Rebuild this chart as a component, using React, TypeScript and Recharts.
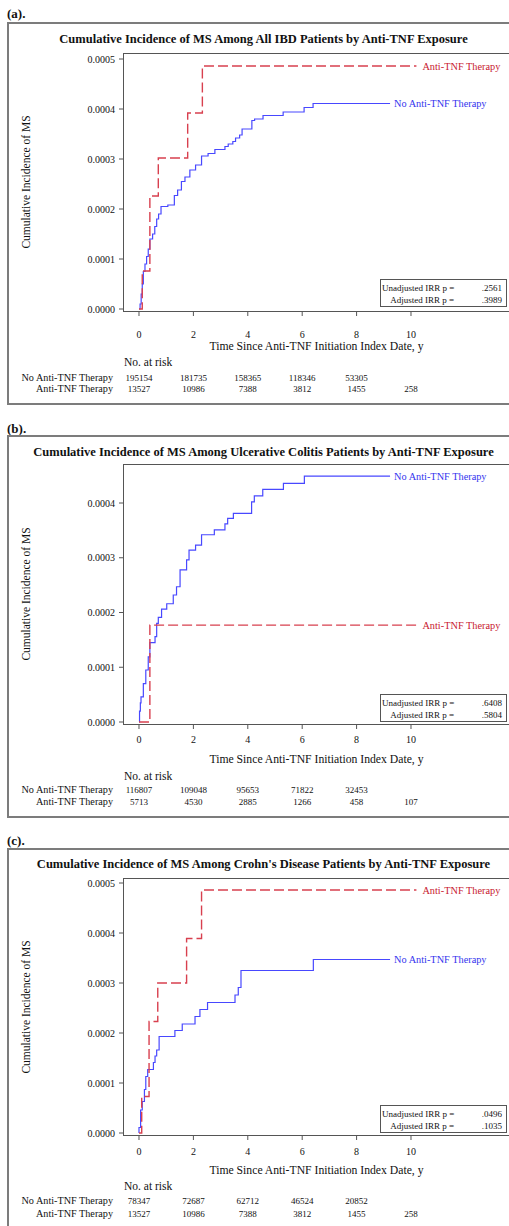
import React from "react";
import { LineChart, Line, XAxis, YAxis, ReferenceDot } from "recharts";

type Pt = [number, number];

const timeTicks = [0, 2, 4, 6, 8, 10];
const groupNames = ["No Anti-TNF Therapy", "Anti-TNF Therapy"];

// (a) all IBD
const ibdNoTnf: Pt[] = [
  [0, 0], [0.04, 0.00001], [0.08, 0.00003], [0.12, 0.00005], [0.16, 0.000075],
  [0.22, 0.00009], [0.28, 0.000105], [0.34, 0.00012], [0.4, 0.00014], [0.5, 0.00015],
  [0.58, 0.000165], [0.65, 0.00018], [0.72, 0.00019], [0.81, 0.000205], [1.06, 0.000208],
  [1.3, 0.000227], [1.42, 0.000238], [1.56, 0.000255], [1.69, 0.000264], [1.87, 0.000278],
  [2.08, 0.000288], [2.3, 0.000306], [2.54, 0.000311], [2.79, 0.000319], [3.16, 0.000325],
  [3.28, 0.00033], [3.45, 0.000335], [3.55, 0.000342], [3.7, 0.000348], [3.79, 0.00036],
  [4.15, 0.000377], [4.25, 0.00038], [4.56, 0.000387], [5.3, 0.000394], [6.07, 0.000403],
  [6.4, 0.000411], [9.23, 0.000411],
];
const ibdTnf: Pt[] = [
  [0, 0], [0.12, 0.000076], [0.4, 0.000226], [0.71, 0.000302], [1.79, 0.000392],
  [2.33, 0.000486], [10.2, 0.000486],
];
const ibdRiskNoTnf = ["195154", "181735", "158365", "118346", "53305", ""];
const ibdRiskTnf = ["13527", "10986", "7388", "3812", "1455", "258"];
const ibdP = [".2561", ".3989"];

// (b) ulcerative colitis
const ucNoTnf: Pt[] = [
  [0, 0], [0.02, 0.00002], [0.05, 0.000035], [0.074, 0.000046], [0.16, 0.00007],
  [0.25, 0.000095], [0.34, 0.000119], [0.4, 0.000145], [0.59, 0.000156], [0.65, 0.00018],
  [0.71, 0.000191], [0.83, 0.000206], [1.02, 0.000216], [1.26, 0.000232], [1.38, 0.000247],
  [1.51, 0.000278], [1.75, 0.000296], [1.84, 0.000314], [2.08, 0.000323], [2.3, 0.000342],
  [2.77, 0.000351], [3.16, 0.000362], [3.26, 0.000372], [3.47, 0.000381], [4.14, 0.000402],
  [4.24, 0.000413], [4.55, 0.000425], [5.31, 0.000436], [6.08, 0.000449], [9.23, 0.000449],
];
const ucTnf: Pt[] = [[0, 0], [0.4, 0.000177], [10.2, 0.000177]];
const ucRiskNoTnf = ["116807", "109048", "95653", "71822", "32453", ""];
const ucRiskTnf = ["5713", "4530", "2885", "1266", "458", "107"];
const ucP = [".6408", ".5804"];

// (c) Crohn's disease
const cdNoTnf: Pt[] = [
  [0, 0], [0, 0.000011], [0.06, 0.000046], [0.12, 0.000063], [0.2, 0.000087],
  [0.25, 0.000113], [0.32, 0.000127], [0.53, 0.000141], [0.59, 0.000154], [0.65, 0.000166],
  [0.74, 0.000193], [1.32, 0.000205], [1.59, 0.000218], [2.06, 0.000233], [2.24, 0.000247],
  [2.52, 0.000261], [3.53, 0.000276], [3.65, 0.000291], [3.75, 0.000325], [6.41, 0.000347],
  [9.23, 0.000347],
];
const cdTnf: Pt[] = [
  [0, 0], [0.1, 0.000073], [0.37, 0.000223], [0.69, 0.0003], [1.75, 0.000389],
  [2.3, 0.000486], [10.2, 0.000486],
];
const cdRiskNoTnf = ["78347", "72687", "62712", "46524", "20852", ""];
const cdRiskTnf = ["13527", "10986", "7388", "3812", "1455", "258"];
const cdP = [".0496", ".1035"];

const FONT = "'Liberation Serif', 'Times New Roman', serif";
const RED = "#d8404f";
const BLUE = "#4848ff";
const RED_TXT = "#c8202f";
const BLUE_TXT = "#3434ee";
const FRAME = "#555";

const X_MIN = -0.588;
const X_MAX = 13.64;
const PLOT_L = 123;
const PLOT_R = 510;
const xPix = (t: number) => PLOT_L + ((t - X_MIN) / (X_MAX - X_MIN)) * (PLOT_R - PLOT_L);

function Txt({ x, y, w, align, size, bold, color, children }: any) {
  const left = align === "right" ? x - w : align === "center" ? x - w / 2 : x;
  return (
    <div
      style={{
        position: "absolute", left, top: y - 7, width: w, height: 14, lineHeight: "14px",
        textAlign: align || "left", fontSize: size, fontWeight: bold ? "bold" : "normal",
        color: color || "#111", whiteSpace: "nowrap", fontFamily: FONT,
      }}
    >
      {children}
    </div>
  );
}

type PanelCfg = {
  tag: string; title: string;
  tagY: number; boxTop: number; boxBottom: number; titleY: number;
  plotTop: number; axisY: number; zeroY: number; pxPerUnit: number; yTicks: number[];
  tickGap: number; xTitleY: number; headY: number; row1Y: number; row2Y: number; insetTop: number;
  noTnf: Pt[]; tnf: Pt[]; riskNo: string[]; riskTnf: string[]; p: string[];
};

function Panel({ c }: { c: PanelCfg }) {
  const mt = 8;
  const plotH = c.axisY - c.plotTop;
  const yDomain = [(c.zeroY - c.axisY) / c.pxPerUnit, (c.zeroY - c.plotTop) / c.pxPerUnit];
  const noData = c.noTnf.map(([t, v]) => ({ t, v }));
  const tnfData = c.tnf.map(([t, v]) => ({ t, v }));
  const lastNo = c.noTnf[c.noTnf.length - 1];
  const lastTnf = c.tnf[c.tnf.length - 1];
  const tickFont = { fontSize: 10, fill: "#111", fontFamily: FONT };
  return (
    <>
      <Txt x={7} y={c.tagY} w={40} size={13} bold>{c.tag}</Txt>
      <div
        style={{
          position: "absolute", left: 7, top: c.boxTop, width: 520, height: c.boxBottom - c.boxTop,
          border: "2px solid #7c7c7c", boxSizing: "border-box",
        }}
      />
      <Txt x={263.5} y={c.titleY} w={505} align="center" size={12.5} bold>{c.title}</Txt>
      <div
        style={{
          position: "absolute", left: PLOT_L, top: c.plotTop, width: PLOT_R - PLOT_L + 1, height: plotH + 1,
          border: `1px solid ${FRAME}`, boxSizing: "border-box",
        }}
      />
      <div style={{ position: "absolute", left: 0, top: c.plotTop - mt }}>
        <LineChart
          width={PLOT_R + 10}
          height={mt + plotH + 30}
          margin={{ top: mt, right: 10, left: PLOT_L - 60, bottom: 0 }}
        >
          <XAxis
            type="number" dataKey="t" domain={[X_MIN, X_MAX]} ticks={timeTicks} allowDataOverflow
            interval={0} height={30} axisLine={false} tickLine={{ stroke: FRAME }} tickSize={5}
            tickMargin={c.tickGap} tick={tickFont}
          />
          <YAxis
            type="number" domain={yDomain} ticks={c.yTicks} allowDataOverflow interval={0} width={60}
            axisLine={false} tickLine={{ stroke: FRAME }} tickSize={4} tickMargin={4}
            tick={tickFont} tickFormatter={(v: number) => v.toFixed(4)}
          />
          <Line
            data={noData} dataKey="v" type="stepAfter" stroke={BLUE} strokeWidth={1.2}
            dot={false} isAnimationActive={false}
          />
          <Line
            data={tnfData} dataKey="v" type="stepAfter" stroke={RED} strokeWidth={1.4}
            strokeDasharray="10 4" dot={false} isAnimationActive={false}
          />
          <ReferenceDot
            x={lastNo[0]} y={lastNo[1]} r={0} stroke="none"
            label={{ value: groupNames[0], position: "right", offset: 4, fill: BLUE_TXT, fontSize: 10.3, fontFamily: FONT }}
          />
          <ReferenceDot
            x={lastTnf[0]} y={lastTnf[1]} r={0} stroke="none"
            label={{ value: groupNames[1], position: "right", offset: 6, fill: RED_TXT, fontSize: 10.3, fontFamily: FONT }}
          />
        </LineChart>
      </div>
      <div
        style={{
          position: "absolute", left: 26 - 100, top: (c.plotTop + c.axisY) / 2 - 7, width: 200, height: 14,
          lineHeight: "14px", textAlign: "center", transform: "rotate(-90deg)", fontSize: 11.5,
          fontFamily: FONT, color: "#111", whiteSpace: "nowrap",
        }}
      >
        Cumulative Incidence of MS
      </div>
      <div
        style={{
          position: "absolute", left: 380, top: c.insetTop, width: 127, height: 28,
          border: `1px solid ${FRAME}`, boxSizing: "border-box", background: "#fff",
        }}
      />
      <Txt x={454} y={c.insetTop + 9} w={72} align="right" size={9}>Unadjusted IRR p =</Txt>
      <Txt x={454} y={c.insetTop + 21} w={72} align="right" size={9}>Adjusted IRR p =</Txt>
      <Txt x={502} y={c.insetTop + 9} w={40} align="right" size={9}>{c.p[0]}</Txt>
      <Txt x={502} y={c.insetTop + 21} w={40} align="right" size={9}>{c.p[1]}</Txt>
      <Txt x={(PLOT_L + PLOT_R) / 2} y={c.xTitleY} w={300} align="center" size={11.7}>
        Time Since Anti-TNF Initiation Index Date, y
      </Txt>
      <Txt x={124} y={c.headY} w={80} size={11.5}>No. at risk</Txt>
      <Txt x={113} y={c.row1Y} w={110} align="right" size={10.2}>{groupNames[0]}</Txt>
      <Txt x={113} y={c.row2Y} w={110} align="right" size={10.2}>{groupNames[1]}</Txt>
      {timeTicks.map((t, i) => (
        <React.Fragment key={t}>
          <Txt x={xPix(t)} y={c.row1Y} w={40} align="center" size={9}>{c.riskNo[i]}</Txt>
          <Txt x={xPix(t)} y={c.row2Y} w={40} align="center" size={9}>{c.riskTnf[i]}</Txt>
        </React.Fragment>
      ))}
    </>
  );
}

const yTicks5 = [0, 0.0001, 0.0002, 0.0003, 0.0004, 0.0005];
const yTicks4 = [0, 0.0001, 0.0002, 0.0003, 0.0004];

const panels: PanelCfg[] = [
  {
    tag: "(a).", title: "Cumulative Incidence of MS Among All IBD Patients by Anti-TNF Exposure",
    tagY: 14, boxTop: 22, boxBottom: 405, titleY: 39, plotTop: 53, axisY: 311, zeroY: 309,
    pxPerUnit: 500000, yTicks: yTicks5, tickGap: 15, xTitleY: 347, headY: 362, row1Y: 378, row2Y: 389,
    insetTop: 279, noTnf: ibdNoTnf, tnf: ibdTnf, riskNo: ibdRiskNoTnf, riskTnf: ibdRiskTnf, p: ibdP,
  },
  {
    tag: "(b).", title: "Cumulative Incidence of MS Among Ulcerative Colitis Patients by Anti-TNF Exposure",
    tagY: 429, boxTop: 435, boxBottom: 818, titleY: 452, plotTop: 464, axisY: 724, zeroY: 722,
    pxPerUnit: 547500, yTicks: yTicks4, tickGap: 7, xTitleY: 760, headY: 776, row1Y: 790, row2Y: 802,
    insetTop: 694, noTnf: ucNoTnf, tnf: ucTnf, riskNo: ucRiskNoTnf, riskTnf: ucRiskTnf, p: ucP,
  },
  {
    tag: "(c).", title: "Cumulative Incidence of MS Among Crohn's Disease Patients by Anti-TNF Exposure",
    tagY: 841, boxTop: 848, boxBottom: 1232, titleY: 864, plotTop: 878, axisY: 1135, zeroY: 1133,
    pxPerUnit: 500000, yTicks: yTicks5, tickGap: 8, xTitleY: 1171, headY: 1186, row1Y: 1201, row2Y: 1214,
    insetTop: 1105, noTnf: cdNoTnf, tnf: cdTnf, riskNo: cdRiskNoTnf, riskTnf: cdRiskTnf, p: cdP,
  },
];

export default function App() {
  return (
    <div
      style={{
        position: "absolute", left: 0, top: 0, width: 509, height: 1226, overflow: "hidden",
        background: "#fff", fontFamily: FONT,
      }}
    >
      {panels.map((c) => (
        <Panel key={c.tag} c={c} />
      ))}
    </div>
  );
}
